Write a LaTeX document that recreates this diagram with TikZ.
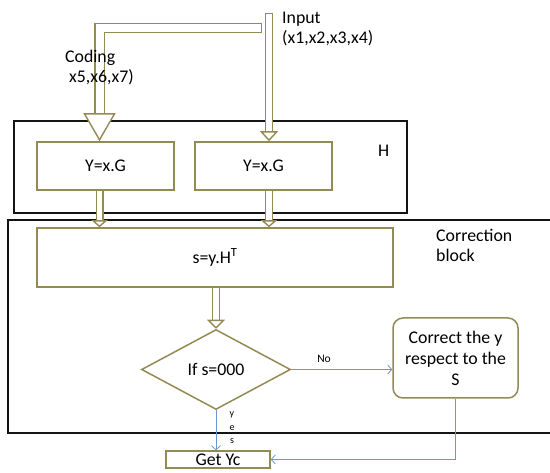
\documentclass[tikz,border=0pt]{standalone}
\usepackage{fontspec}
\setmainfont{Carlito}
\usetikzlibrary{shapes.geometric,arrows.meta}
\definecolor{boxolive}{RGB}{148,138,84}
\definecolor{flowblue}{RGB}{104,151,212}
\definecolor{frameblack}{RGB}{20,20,20}

\begin{document}
\begin{tikzpicture}[x=1pt, y=-1pt,
font=\fontsize{17.8}{20}\selectfont,
stepbox/.style={draw=boxolive, line width=1.5pt, fill=white, inner sep=0pt},
frame/.style={draw=frameblack, line width=1.6pt, inner sep=0pt},
lbl/.style={inner sep=0pt, anchor=base west, align=left},
dblarrow/.style 2 args={draw=boxolive, line width=1.4pt, double=white, double distance=5.2pt,
  -{Triangle[length=#1, width=#2, line width=1.4pt, fill=white]}},
flow/.style={draw=flowblue, line width=0.8pt, -{Straight Barb[length=4pt, width=9pt]}}]
\useasboundingbox (0,0) rectangle (550,473);
\clip (0,0) rectangle (550,473);
\node[frame, minimum width=393pt, minimum height=92pt] (hbox) at (210.5,167) {};
\node[frame, minimum width=547pt, minimum height=213pt] (corrblock) at (281.5,326.5) {};
\node[stepbox, minimum width=137pt, minimum height=48pt] (y1) at (105.5,166) {Y=x.G};
\node[stepbox, minimum width=137pt, minimum height=48pt] (y2) at (263.5,166) {Y=x.G};
\node[stepbox, minimum width=356pt, minimum height=59pt] (s) at (215,257.5) {s=y.H\textsuperscript{T}};
\node[stepbox, diamond, minimum width=149pt, minimum height=80pt] (dia) at (216,369.5) {If s=000};
\node[stepbox, rounded corners=10pt, minimum width=125pt, minimum height=80pt, align=center,
  font=\fontsize{17.8}{21}\selectfont] (fix) at (455.5,358) {Correct the y\\respect to the\\S};
\node[stepbox, minimum width=104pt, minimum height=17pt] (get) at (218,459.5) {Get Yc};
\coordinate (inp) at (269,17);
\coordinate (cod) at (256.6,28);
\draw[dblarrow={10pt}{18pt}, line cap=rect] (inp) -- (inp |- y2.north);
\draw[dblarrow={28pt}{32pt}, double distance=8pt, line cap=rect] (cod) -| ([xshift=-6pt]y1.north);
\draw[dblarrow={7pt}{16pt}] ([xshift=-6pt]y1.south) -- ([xshift=-6pt]y1.south |- s.north);
\draw[dblarrow={7pt}{16pt}] ([xshift=5.5pt]y2.south) -- ([xshift=5.5pt]y2.south |- s.north);
\draw[dblarrow={9pt}{18pt}] (s.south -| dia.north) -- (dia.north);
\draw[flow] (dia.east) -- (dia.east -| fix.west);
\draw[flow] (dia.south) -- (dia.south |- get.north);
\draw[flow] (fix.south) |- (get.east);
\node[lbl] (codlbl) at (65,83) {Coding\\\hspace*{4pt}x5,x6,x7)};
\node[lbl] (inlbl) at (282,44) {Input\\(x1,x2,x3,x4)};
\node[lbl] (hlbl) at (378,157) {H};
\node[lbl] (corrlbl) at (436,262) {Correction\\block};
\node[inner sep=0pt, font=\fontsize{11.5}{13}\selectfont] (nolbl) at (324,359) {No};
\node[inner sep=0pt, align=center, font=\fontsize{10}{13.5}\selectfont] (yeslbl) at (232,428) {y\\e\\s};
\end{tikzpicture}
\end{document}
